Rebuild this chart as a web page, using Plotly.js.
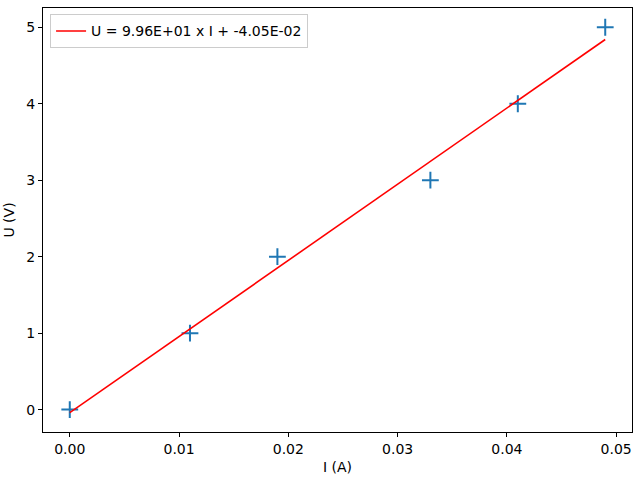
<!DOCTYPE html>
<html>
<head>
<meta charset="utf-8">
<script src="https://cdn.plot.ly/plotly-3.0.1.min.js"></script>
<style>html,body{margin:0;padding:0;background:#fff;}#chart{width:640px;height:480px;}</style>
</head>
<body>
<div id="chart"></div>
<script>
const currentI = [0.0, 0.011, 0.019, 0.033, 0.041, 0.049];
const voltageU = [0, 1, 2, 3, 4, 5];
const fitSlope = 99.6;
const fitIntercept = -0.0405;
const fitLabel = "U = 9.96E+01 x I + -4.05E-02";

const fitU = currentI.map(i => fitSlope * i + fitIntercept);

const font = {family: "DejaVu Sans", size: 14, color: "#000"};

const traces = [
  {
    x: currentI, y: voltageU, mode: "markers", type: "scatter", showlegend: false,
    marker: {symbol: "cross-thin-open", size: 12, color: "#1f77b4", line: {color: "#1f77b4", width: 2}}
  },
  {
    x: currentI, y: fitU, mode: "lines", type: "scatter", name: fitLabel,
    line: {color: "red", width: 1.6}
  }
];

const axisCommon = {
  showline: true, linecolor: "#000", linewidth: 1, mirror: true,
  ticks: "outside", ticklen: 4, tickcolor: "#000", tickwidth: 1,
  showgrid: false, zeroline: false, tickfont: font
};

const layout = {
  width: 640, height: 480,
  margin: {l: 43, r: 8, t: 8, b: 48},
  paper_bgcolor: "#fff", plot_bgcolor: "#fff",
  font: font,
  xaxis: Object.assign({}, axisCommon, {
    range: [-0.00245, 0.05145], tickvals: [0, 0.01, 0.02, 0.03, 0.04, 0.05],
    tickformat: ".2f", title: {text: "I (A)", font: font, standoff: 6}
  }),
  yaxis: Object.assign({}, axisCommon, {
    range: [-0.293, 5.252], tickvals: [0, 1, 2, 3, 4, 5],
    title: {text: "U (V)", font: font, standoff: 8}
  }),
  legend: {
    x: 0.012, y: 0.985, xanchor: "left", yanchor: "top",
    bgcolor: "rgba(255,255,255,0.8)", bordercolor: "#cccccc", borderwidth: 1,
    font: font
  },
  showlegend: true
};

Plotly.newPlot("chart", traces, layout, {staticPlot: true, displayModeBar: false});
</script>
</body>
</html>
